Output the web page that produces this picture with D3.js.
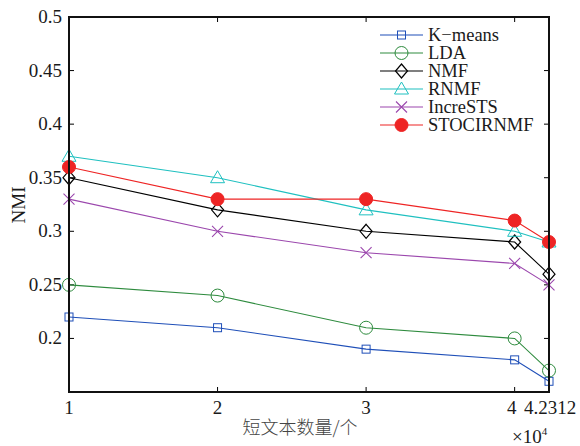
<!DOCTYPE html>
<html><head><meta charset="utf-8">
<script src="https://cdn.jsdelivr.net/npm/d3@7"></script>
<style>body{margin:0;background:#fff}svg{display:block}</style>
</head><body><svg id="c" width="580" height="446"></svg>
<script>
const xVals = [1, 2, 3, 4, 4.2312];
const xTicks = [1, 2, 3, 4, 4.2312];
const xTickLabels = ["1", "2", "3", "4", "4.2312"];
const yTicks = [0.2, 0.25, 0.3, 0.35, 0.4, 0.45, 0.5];
const seriesNames = ["K\u2212means", "LDA", "NMF", "RNMF", "IncreSTS", "STOCIRNMF"];
const kmeans = [0.22, 0.21, 0.19, 0.18, 0.16];
const lda = [0.25, 0.24, 0.21, 0.20, 0.17];
const nmf = [0.35, 0.32, 0.30, 0.29, 0.26];
const rnmf = [0.37, 0.35, 0.32, 0.30, 0.29];
const incrests = [0.33, 0.30, 0.28, 0.27, 0.25];
const stocirnmf = [0.36, 0.33, 0.33, 0.31, 0.29];

const series = [
  {name: seriesNames[0], v: kmeans, color: "#1f4fb8", m: "square"},
  {name: seriesNames[1], v: lda, color: "#2e8b3e", m: "circle"},
  {name: seriesNames[2], v: nmf, color: "#000000", m: "diamond"},
  {name: seriesNames[3], v: rnmf, color: "#1fc0c0", m: "triangle"},
  {name: seriesNames[4], v: incrests, color: "#9b47ad", m: "x"},
  {name: seriesNames[5], v: stocirnmf, color: "#ee2424", m: "dot"}
];

const SERIF = "'Liberation Serif','Times New Roman',serif";
const L = 69, R = 549, T = 17, B = 392;
const svg = d3.select("#c");
const x = d3.scaleLinear().domain([1, 4.2312]).range([L, R]);
const y = d3.scaleLinear().domain([0.15, 0.5]).range([B, T]);

const g = svg.append("g");
const tl = 5;
xTicks.forEach(t => {
  g.append("line").attr("x1", x(t)).attr("x2", x(t)).attr("y1", B).attr("y2", B - tl).attr("stroke", "#000");
  g.append("line").attr("x1", x(t)).attr("x2", x(t)).attr("y1", T).attr("y2", T + tl).attr("stroke", "#000");
});
yTicks.forEach(t => {
  g.append("line").attr("x1", L).attr("x2", L + tl).attr("y1", y(t)).attr("y2", y(t)).attr("stroke", "#000");
  g.append("line").attr("x1", R).attr("x2", R - tl).attr("y1", y(t)).attr("y2", y(t)).attr("stroke", "#000");
  g.append("text").style("font-family", SERIF).attr("x", L - 7).attr("y", y(t) + 6).attr("text-anchor", "end").attr("font-size", 19).attr("fill", "#1a1a1a").text(String(t));
});
xTicks.forEach((t, i) => {
  let xx = x(t);
  if (i === 3) xx = x(t) - 3;
  if (i === 4) xx = x(t) + 1;
  g.append("text").style("font-family", SERIF).attr("x", xx).attr("y", 414).attr("text-anchor", "middle").attr("font-size", 19).attr("fill", "#1a1a1a").text(xTickLabels[i]);
});

const line = d3.line().x((d, i) => x(xVals[i])).y(d => y(d));
function marker(sel, m, color, cx, cy) {
  const s = sel.append("g").attr("transform", `translate(${cx},${cy})`);
  if (m === "square") s.append("rect").attr("x", -4).attr("y", -4).attr("width", 8).attr("height", 8).attr("fill", "none").attr("stroke", color);
  else if (m === "circle") s.append("circle").attr("r", 6.5).attr("fill", "none").attr("stroke", color);
  else if (m === "diamond") s.append("path").attr("d", "M0,-7L6,0L0,7L-6,0Z").attr("fill", "none").attr("stroke", color).attr("stroke-width", 1.2);
  else if (m === "triangle") s.append("path").attr("d", "M0,-7L7,5L-7,5Z").attr("fill", "none").attr("stroke", color);
  else if (m === "x") s.append("path").attr("d", "M-5.5,-5.5L5.5,5.5M-5.5,5.5L5.5,-5.5").attr("stroke", color).attr("stroke-width", 1.1);
  else if (m === "dot") s.append("circle").attr("r", 6.5).attr("fill", color).attr("stroke", color);
}
const plot = svg.append("g");
series.forEach(s => {
  plot.append("path").datum(s.v).attr("d", line).attr("fill", "none").attr("stroke", s.color).attr("stroke-width", 1.1);
  s.v.forEach((d, i) => marker(plot, s.m, s.color, x(xVals[i]), y(d)));
});

svg.append("rect").attr("x", L).attr("y", T).attr("width", R - L).attr("height", B - T).attr("fill", "none").attr("stroke", "#111").attr("stroke-width", 2);

const lg = svg.append("g");
series.forEach((s, i) => {
  const yy = 35 + i * 18;
  lg.append("line").attr("x1", 380).attr("x2", 423).attr("y1", yy).attr("y2", yy).attr("stroke", s.color).attr("stroke-width", 1.1);
  marker(lg, s.m, s.color, 401.5, yy);
  lg.append("text").style("font-family", SERIF).attr("x", 428).attr("y", yy + 5.5).attr("font-size", 18.5).attr("fill", "#1a1a1a").text(s.name);
});

svg.append("text").style("font-family", SERIF).attr("transform", "translate(25,205) rotate(-90)").attr("text-anchor", "middle").attr("font-size", 19).attr("fill", "#1a1a1a").text("NMI");
svg.append("text").attr("x", 300).attr("y", 434).attr("text-anchor", "middle").attr("font-size", 18).attr("fill", "#444").style("font-family", "'Noto Sans CJK SC'").attr("font-weight", 300).text("短文本数量/个");
const mult = svg.append("text").style("font-family", SERIF).attr("x", 512).attr("y", 443).attr("font-size", 19).attr("fill", "#1a1a1a");
mult.append("tspan").text("×10");
mult.append("tspan").attr("dy", -8).attr("font-size", 11).text("4");
</script></body></html>
